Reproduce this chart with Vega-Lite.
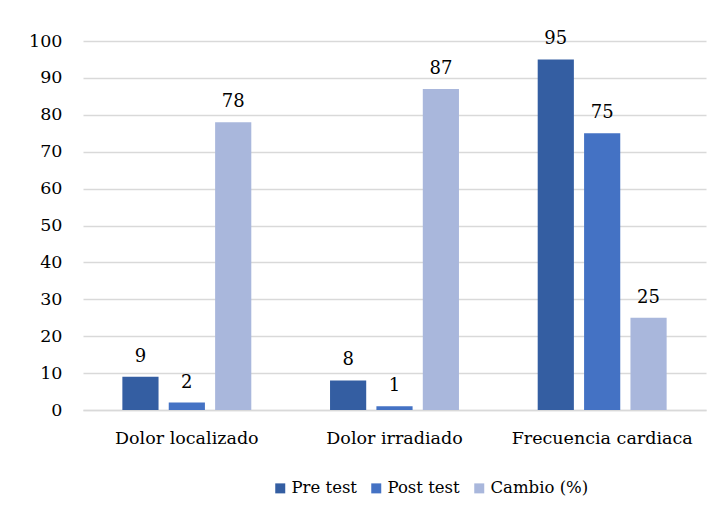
{
  "$schema": "https://vega.github.io/schema/vega-lite/v6.json",
  "width": 623,
  "height": 369,
  "autosize": {"type": "none"},
  "padding": {"left": 83, "top": 41, "right": 18, "bottom": 108},
  "background": "white",
  "config": {
    "view": {"stroke": null},
    "font": "DejaVu Serif",
    "axis": {"labelFont": "DejaVu Serif", "labelFontSize": 17.5, "labelColor": "#000000", "labelLimit": 0},
    "legend": {"labelFont": "DejaVu Serif", "labelFontSize": 16.5, "labelColor": "#000000", "labelLimit": 0}
  },
  "data": {
    "values": [
      {"cat": "Dolor localizado", "serie": "Pre test", "v": 9},
      {"cat": "Dolor localizado", "serie": "Post test", "v": 2},
      {"cat": "Dolor localizado", "serie": "Cambio (%)", "v": 78},
      {"cat": "Dolor irradiado", "serie": "Pre test", "v": 8},
      {"cat": "Dolor irradiado", "serie": "Post test", "v": 1},
      {"cat": "Dolor irradiado", "serie": "Cambio (%)", "v": 87},
      {"cat": "Frecuencia cardiaca", "serie": "Pre test", "v": 95},
      {"cat": "Frecuencia cardiaca", "serie": "Post test", "v": 75},
      {"cat": "Frecuencia cardiaca", "serie": "Cambio (%)", "v": 25}
    ]
  },
  "encoding": {
    "x": {
      "field": "cat", "type": "nominal", "sort": null, "title": null,
      "scale": {"paddingInner": 0.33, "paddingOuter": 0.165},
      "axis": {"labelAngle": 0, "labelFontSize": 17.5, "domain": true, "domainColor": "#d9d9d9", "domainWidth": 1.3, "ticks": false, "labelPadding": 19, "grid": false}
    },
    "xOffset": {
      "field": "serie", "type": "nominal", "sort": ["Pre test", "Post test", "Cambio (%)"],
      "scale": {"paddingInner": 0.22, "paddingOuter": 0.11}
    },
    "y": {
      "field": "v", "type": "quantitative", "title": null,
      "scale": {"domain": [0, 100], "nice": false},
      "axis": {"values": [0,10,20,30,40,50,60,70,80,90,100], "domain": false, "ticks": false, "labelPadding": 21, "gridColor": "#d9d9d9", "gridWidth": 1.3}
    }
  },
  "layer": [
    {
      "mark": {"type": "bar"},
      "encoding": {
        "color": {
          "field": "serie", "type": "nominal", "sort": ["Pre test", "Post test", "Cambio (%)"],
          "scale": {"domain": ["Pre test", "Post test", "Cambio (%)"], "range": ["#345EA2", "#4472C4", "#A9B7DC"]},
          "legend": {
            "title": null, "orient": "none", "direction": "horizontal",
            "legendX": 189, "legendY": 439, "symbolType": "square", "symbolSize": 100,
            "symbolStrokeWidth": 0, "columnPadding": 11, "labelOffset": 3
          }
        }
      }
    },
    {
      "mark": {"type": "text", "baseline": "bottom", "dy": -11, "fontSize": 18, "color": "#000000", "font": "DejaVu Serif"},
      "encoding": {"text": {"field": "v", "type": "quantitative"}}
    }
  ]
}
